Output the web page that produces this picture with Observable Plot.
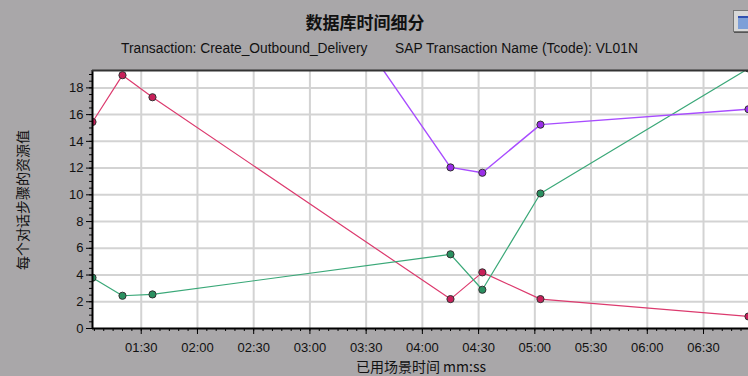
<!DOCTYPE html>
<html>
<head>
<meta charset="utf-8">
<script src="https://cdn.jsdelivr.net/npm/d3@7"></script>
<script src="https://cdn.jsdelivr.net/npm/@observablehq/plot@0.6"></script>
<style>
  html, body { margin: 0; padding: 0; }
  body { width: 748px; height: 376px; background: #a9a7a9; position: relative; overflow: hidden; font-family: "Liberation Sans", Arial, sans-serif; }
  #header { position: relative; height: 70px; }
  #title { position: absolute; left: 0; width: 730px; top: 9px; text-align: center; font: bold 17px "Noto Sans CJK SC", sans-serif; color: #111; }
  .sub { position: absolute; top: 41px; font-size: 13.8px; color: #111; white-space: pre; }
  #icon { position: absolute; left: 733px; top: 10px; width: 20px; height: 20px; background: #d8d8d8; border: 1px solid #777; box-shadow: 1px 1px 0 #555; }
  #icon div { position: absolute; left: 4px; top: 5px; width: 12px; height: 11px; background: #7d9fd8; border-top: 2px solid #3050b0; }
  #ylabel { position: absolute; left: 22px; top: 200px; transform: translate(-50%, -50%) rotate(-90deg); font: 14px "Noto Sans CJK SC", sans-serif; color: #111; white-space: nowrap; }
  #xlabel { position: absolute; left: 421px; top: 366px; transform: translate(-50%, -50%); font: 14px "Noto Sans CJK SC", sans-serif; color: #111; white-space: nowrap; }
  #chart { position: absolute; left: 0; top: 70px; }
</style>
</head>
<body>
<div id="header">
  <div id="title">数据库时间细分</div>
  <div class="sub" style="left:121px">Transaction: Create_Outbound_Delivery</div>
  <div class="sub" style="left:395px">SAP Transaction Name (Tcode): VL01N</div>
  <div id="icon"><div></div></div>
</div>
<div id="chart"></div>
<div id="ylabel">每个对话步骤的资源值</div>
<div id="xlabel">已用场景时间 mm:ss</div>
<script>
// elapsed time in seconds
const times = [64, 80, 96, 255, 272, 303, 414];
const redValues = [15.45, 18.95, 17.3, 2.2, 4.2, 2.2, 0.9];
const greenValues = [3.8, 2.45, 2.55, 5.55, 2.9, 10.1, 19.45];
const purpleTimes = [96, 255, 272, 303, 414];
const purpleValues = [44.3, 12.05, 11.65, 15.25, 16.4];
const xTickValues = [90, 120, 150, 180, 210, 240, 270, 300, 330, 360, 390];
const yTickValues = [0, 2, 4, 6, 8, 10, 12, 14, 16, 18];

const xMinor = d3.range(65, 414, 5);
const yMinor = d3.range(0, 19.3, 0.5);
const fmt = s => String(Math.floor(s / 60)).padStart(2, "0") + ":" + String(s % 60).padStart(2, "0");

const red = times.map((t, i) => ({t, v: redValues[i]}));
const green = times.map((t, i) => ({t, v: greenValues[i]}));
const purple = purpleTimes.map((t, i) => ({t, v: purpleValues[i]}));

const chart = Plot.plot({
  width: 748,
  height: 306,
  marginTop: 0,
  marginLeft: 92,
  marginRight: 0,
  marginBottom: 48,
  style: { background: "transparent", fontFamily: "Liberation Sans, Arial, sans-serif", fontSize: "13px", color: "#111", overflow: "visible" },
  x: { domain: [64, 414], label: null },
  y: { domain: [0, 19.3], label: null },
  marks: [
    Plot.frame({ fill: "white", stroke: "none" }),
    Plot.gridX(xTickValues, { stroke: "#d3d3d3", strokeWidth: 2, strokeOpacity: 1 }),
    Plot.gridY(yTickValues.slice(1), { stroke: "#d3d3d3", strokeWidth: 2, strokeOpacity: 1 }),
    Plot.line(red, { x: "t", y: "v", stroke: "#dc3a6e", strokeWidth: 1.2, clip: true }),
    Plot.line(green, { x: "t", y: "v", stroke: "#3aa878", strokeWidth: 1.2, clip: true }),
    Plot.line(purple, { x: "t", y: "v", stroke: "#a84cff", strokeWidth: 1.4, clip: true }),
    Plot.dot(red, { x: "t", y: "v", r: 3.6, fill: "#c8205a", stroke: "#333", strokeWidth: 1, clip: true }),
    Plot.dot(green, { x: "t", y: "v", r: 3.6, fill: "#2a9060", stroke: "#333", strokeWidth: 1, clip: true }),
    Plot.dot(purple, { x: "t", y: "v", r: 3.6, fill: "#9a2ee8", stroke: "#333", strokeWidth: 1, clip: true }),
    Plot.axisX(xMinor, { tickSize: 3, text: null, stroke: "#000", label: null }),
    Plot.axisX(xTickValues, { tickSize: 6, tickFormat: fmt, stroke: "#000", tickPadding: 8, label: null, fill: "#111" }),
    Plot.axisY(yMinor, { tickSize: 3, text: null, stroke: "#000", label: null }),
    Plot.axisY(yTickValues, { tickSize: 6, stroke: "#000", tickPadding: 3, label: null, fill: "#111" }),
    Plot.ruleX([64], { stroke: "#000", strokeWidth: 2 }),
    Plot.ruleY([0], { stroke: "#000", strokeWidth: 2 }),
    Plot.ruleY([19.3], { stroke: "#333", strokeWidth: 2 })
  ]
});
document.getElementById("chart").appendChild(chart);
</script>
</body>
</html>
